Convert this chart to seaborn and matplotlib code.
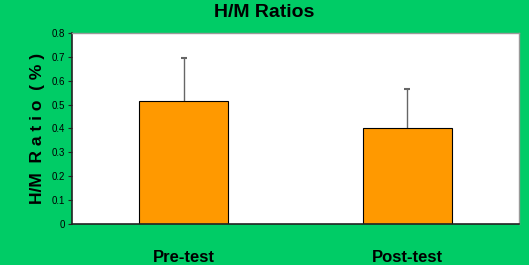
import numpy as np
import pandas as pd
import seaborn as sns
import matplotlib.pyplot as plt

# Chart data
groups = ["Pre-test", "Post-test"]
ratios = [0.515, 0.403]
errors = [0.182, 0.163]

df = pd.DataFrame({"group": groups, "ratio": ratios})

sns.set_style("white", {"text.color": "black", "axes.labelcolor": "black",
                        "xtick.color": "black", "ytick.color": "black"})
plt.rcParams['font.family'] = ['Liberation Sans Narrow', 'Liberation Sans', 'DejaVu Sans']

bg = "#00CC66"
fig = plt.figure(figsize=(5.29, 2.65), dpi=100, facecolor=bg)
ax = fig.add_axes([0.1361, 0.1547, 0.8450, 0.7208])
ax.set_facecolor("white")

sns.barplot(data=df, x="group", y="ratio", color="#FF9900", width=0.40,
            edgecolor="black", linewidth=0.8, saturation=1, ax=ax, zorder=2)

# error bars sit behind the bars so only the upper half shows
ax.errorbar(np.arange(len(groups)), ratios, yerr=errors,
            fmt="none", ecolor="#666666", elinewidth=1.0, capsize=2.5,
            capthick=1.5, zorder=1)

ax.set_ylim(0, 0.8)
ax.set_xlim(-0.5, 1.5)
ax.set_yticks(np.arange(0, 0.81, 0.1))
ax.set_yticklabels(["0"] + [f"{v:.1f}" for v in np.arange(0.1, 0.81, 0.1)], fontsize=7)
ax.tick_params(axis="y", direction="out", length=3, width=0.8, pad=2, left=True,
               color="#222222", labelcolor="black")
ax.tick_params(axis="x", length=0, pad=19, labelsize=12, labelcolor="black")
for lab in ax.get_xticklabels():
    lab.set_fontweight("bold")

for side in ["top", "right"]:
    ax.spines[side].set_color("#999999")
    ax.spines[side].set_linewidth(1.0)
for side in ["left", "bottom"]:
    ax.spines[side].set_color("#222222")
    ax.spines[side].set_linewidth(1.2)
ax.spines["bottom"].set_zorder(3)

ax.set_xlabel("")
ax.set_ylabel("H/M  R a t i o  ( % )", fontsize=12.5, fontweight="bold",
              labelpad=5, color="black")
fig.text(0.5, 0.953, "H/M Ratios", ha="center", va="center",
         fontsize=14, fontweight="bold", color="black")

fig.savefig("out.png", dpi=100, facecolor=bg)
